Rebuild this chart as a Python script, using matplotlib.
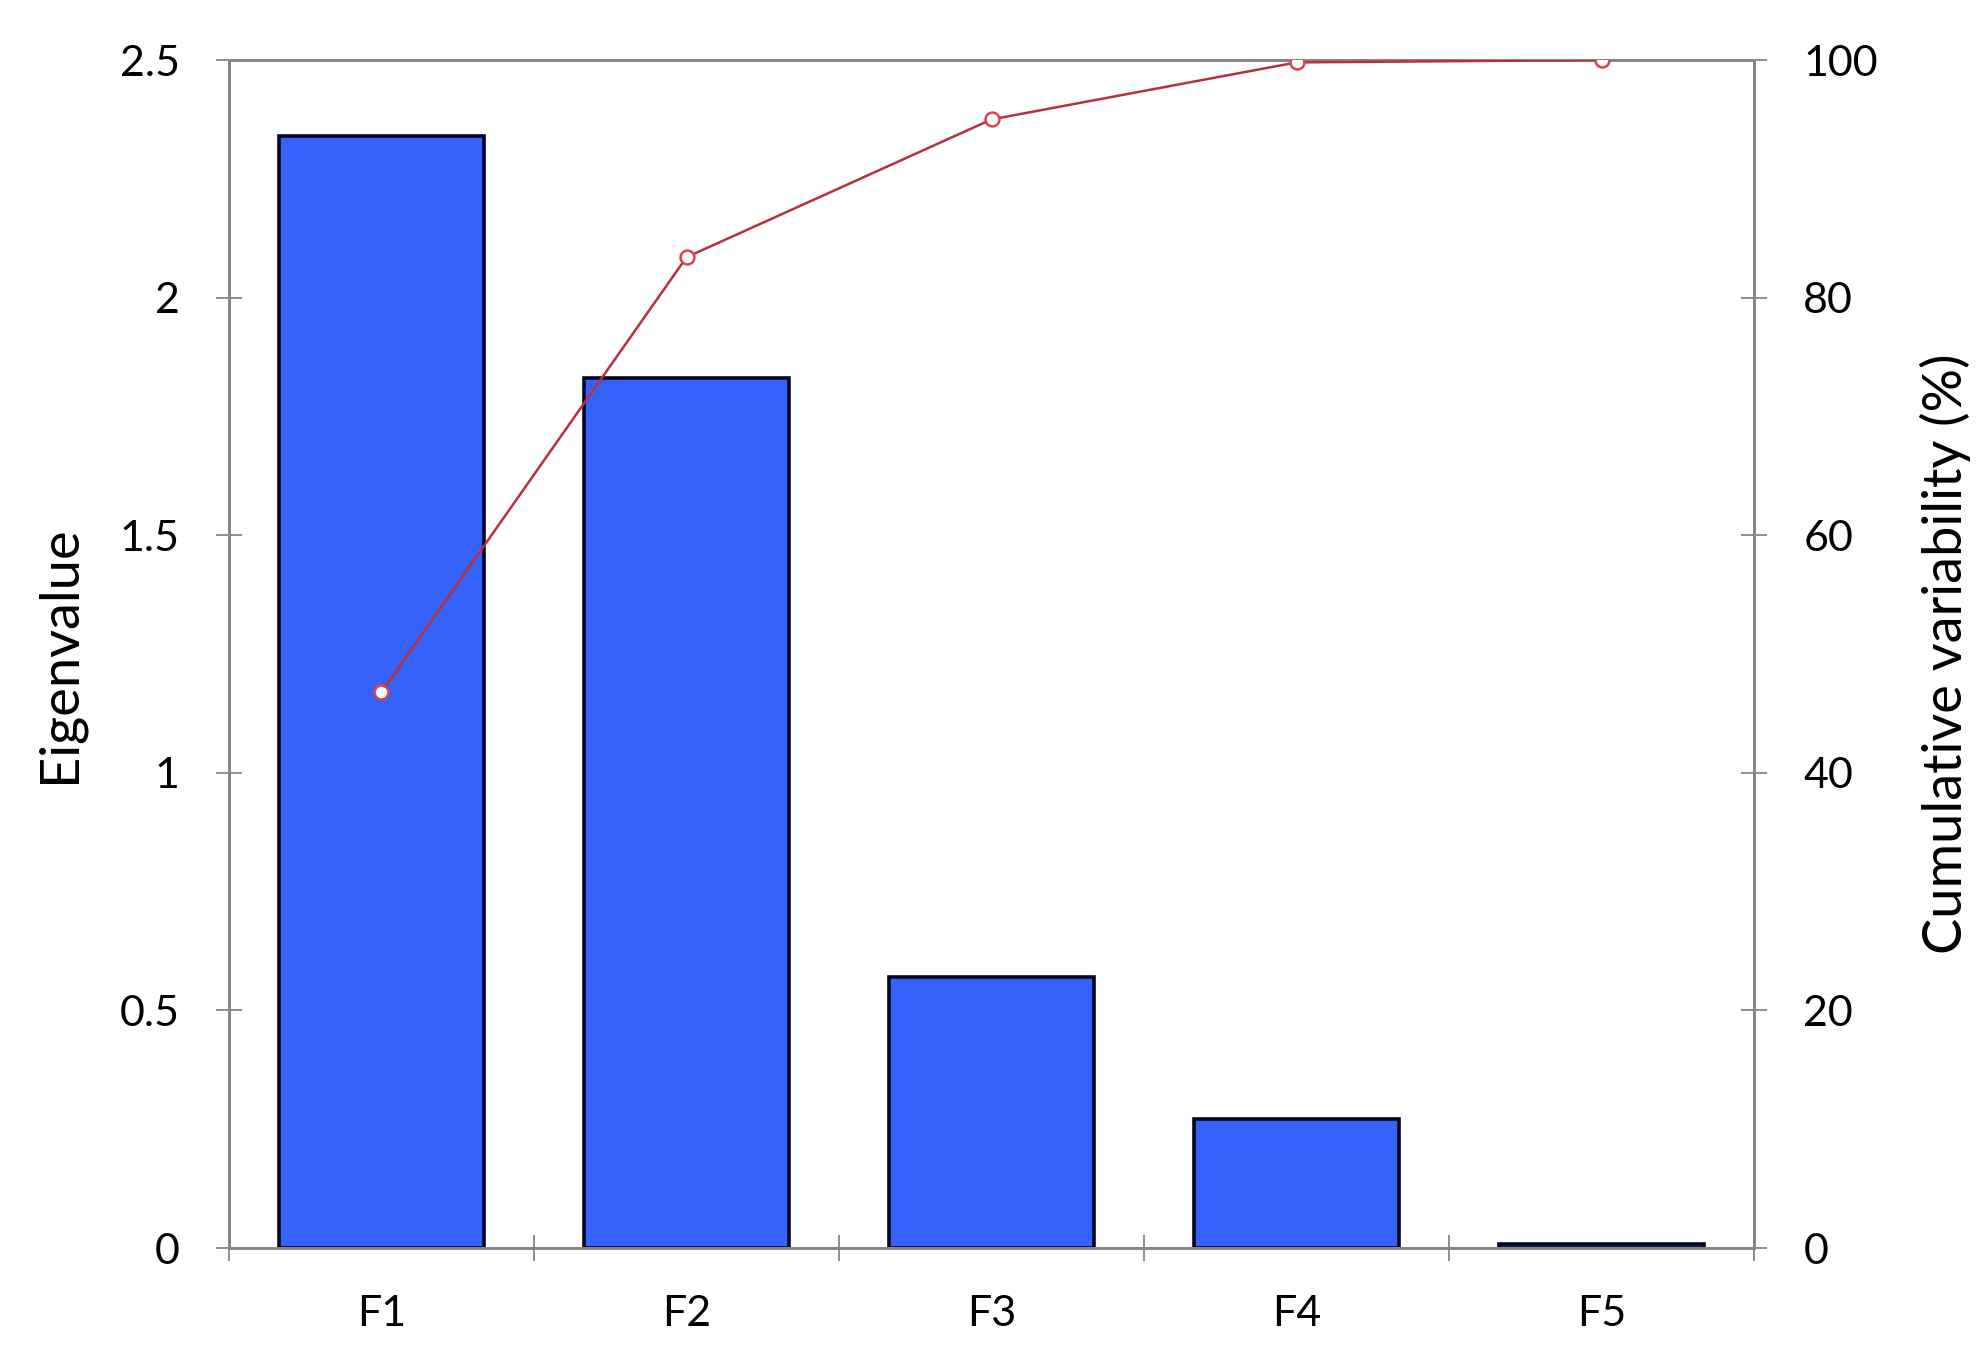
import matplotlib
matplotlib.use("Agg")
import matplotlib.pyplot as plt
from matplotlib.ticker import FixedLocator, FuncFormatter

# scree plot: eigenvalues per factor + cumulative variability
factors = ["F1", "F2", "F3", "F4", "F5"]
eigenvalues = [2.34, 1.831, 0.570, 0.272, 0.008]
cumulative = [46.8, 83.4, 95.0, 99.8, 100.0]

plt.rcParams["font.family"] = ["Lato", "DejaVu Sans"]

fig = plt.figure(figsize=(19.86, 13.58), dpi=100)
ax = fig.add_axes([0.1153, 0.0810, 0.8832 - 0.1153, 0.9558 - 0.0810])
ax2 = ax.twinx()

xs = list(range(len(factors)))
ax.bar(xs, eigenvalues, width=0.67, color="#3462fa", edgecolor="#050520",
       linewidth=2.6, zorder=2)
ax2.plot(xs, cumulative, "-o", color="#b8303c", lw=1.8, ms=10,
         mfc="white", mec="#e0404e", mew=1.8, zorder=3)

ax.set_xlim(-0.5, len(factors) - 0.5)
ax.set_ylim(0, 2.5)
ax2.set_ylim(0, 100)

ax.set_yticks([0, 0.5, 1, 1.5, 2, 2.5])
ax.yaxis.set_major_formatter(FuncFormatter(lambda v, p: f"{v:g}"))
ax2.set_yticks([0, 20, 40, 60, 80, 100])

# labels at category centres, tick marks on the boundaries
ax.set_xticks(xs)
ax.set_xticklabels(factors)
ax.xaxis.set_minor_locator(FixedLocator([i - 0.5 for i in range(len(factors) + 1)]))
ax.tick_params(axis="x", which="major", length=0, pad=34, labelsize=31)
ax.tick_params(axis="x", which="minor", direction="inout", length=19,
               width=1.3, color="#868686")
ax.tick_params(axis="y", direction="inout", length=19, width=1.3,
               color="#868686", pad=26, labelsize=31)
ax2.tick_params(axis="y", direction="inout", length=19, width=1.3,
                color="#868686", pad=26, labelsize=31)

for a in (ax, ax2):
    for sp in a.spines.values():
        sp.set_color("#868686")
        sp.set_linewidth(2.0)

ax.set_ylabel("Eigenvalue", fontsize=39, labelpad=26)
ax2.set_ylabel("Cumulative variability (%)", fontsize=39, labelpad=30)

ax2.set_zorder(ax.get_zorder() + 1)
ax.patch.set_visible(True)
ax2.patch.set_visible(False)

fig.savefig("out.png", dpi=100)
